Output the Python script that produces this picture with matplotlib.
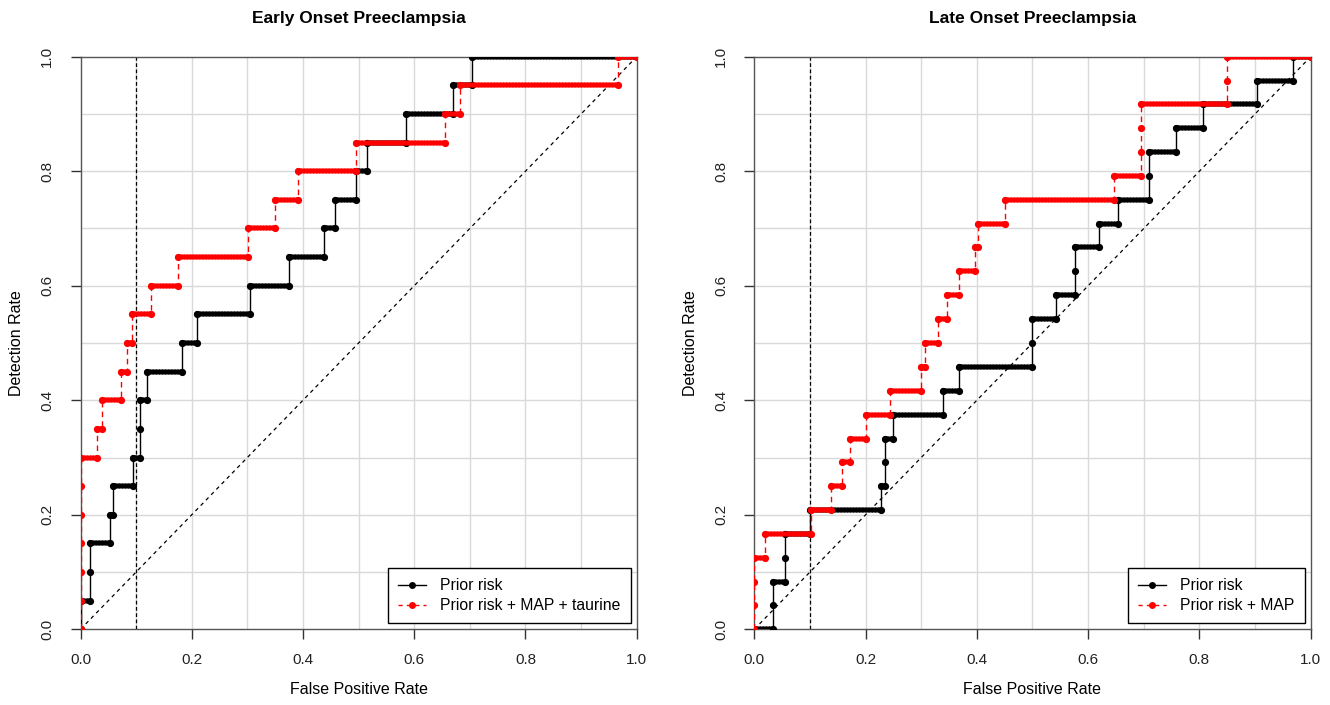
import matplotlib
matplotlib.use("Agg")
import matplotlib.pyplot as plt
from matplotlib.lines import Line2D

plt.rcParams['font.family'] = ['Liberation Sans', 'DejaVu Sans']

# ROC step vertices (false positive rate, detection rate)
eo_prior_fpr = [0, 0, 0.017, 0.017, 0.017, 0.053, 0.053, 0.058, 0.058, 0.095, 0.095, 0.107, 0.107, 0.107,
                0.12, 0.12, 0.183, 0.183, 0.21, 0.21, 0.305, 0.305, 0.375, 0.375, 0.438, 0.438, 0.458, 0.458,
                0.496, 0.496, 0.515, 0.515, 0.585, 0.585, 0.669, 0.669, 0.703, 0.703, 1.0]
eo_prior_tpr = [0, 0.05, 0.05, 0.10, 0.15, 0.15, 0.20, 0.20, 0.25, 0.25, 0.30, 0.30, 0.35, 0.40,
                0.40, 0.45, 0.45, 0.50, 0.50, 0.55, 0.55, 0.60, 0.60, 0.65, 0.65, 0.70, 0.70, 0.75,
                0.75, 0.80, 0.80, 0.85, 0.85, 0.90, 0.90, 0.95, 0.95, 1.0, 1.0]

eo_full_fpr = [0, 0, 0, 0, 0, 0, 0, 0.03, 0.03, 0.038, 0.038, 0.072, 0.072, 0.084, 0.084, 0.092, 0.092,
               0.127, 0.127, 0.175, 0.175, 0.301, 0.301, 0.349, 0.349, 0.391, 0.391, 0.495, 0.495,
               0.655, 0.655, 0.683, 0.683, 0.967, 0.967, 1.0]
eo_full_tpr = [0, 0.05, 0.10, 0.15, 0.20, 0.25, 0.30, 0.30, 0.35, 0.35, 0.40, 0.40, 0.45, 0.45, 0.50, 0.50, 0.55,
               0.55, 0.60, 0.60, 0.65, 0.65, 0.70, 0.70, 0.75, 0.75, 0.80, 0.80, 0.85,
               0.85, 0.90, 0.90, 0.95, 0.95, 1.0, 1.0]

lo_prior_fpr = [0, 0.034, 0.034, 0.034, 0.055, 0.055, 0.055, 0.1, 0.1, 0.228, 0.228, 0.235, 0.235, 0.235,
                0.249, 0.249, 0.34, 0.34, 0.368, 0.368, 0.499, 0.499, 0.499, 0.542, 0.542, 0.577, 0.577,
                0.577, 0.619, 0.619, 0.653, 0.653, 0.71, 0.71, 0.71, 0.758, 0.758, 0.807, 0.807, 0.903,
                0.903, 0.968, 0.968, 1.0]
lo_prior_tpr = [0, 0, 0.042, 0.083, 0.083, 0.125, 0.167, 0.167, 0.208, 0.208, 0.25, 0.25, 0.292, 0.333,
                0.333, 0.375, 0.375, 0.417, 0.417, 0.458, 0.458, 0.5, 0.542, 0.542, 0.583, 0.583, 0.625,
                0.667, 0.667, 0.708, 0.708, 0.75, 0.75, 0.792, 0.833, 0.833, 0.875, 0.875, 0.917, 0.917,
                0.958, 0.958, 1.0, 1.0]

lo_map_fpr = [0, 0, 0, 0, 0.019, 0.019, 0.102, 0.102, 0.138, 0.138, 0.158, 0.158, 0.172, 0.172, 0.201, 0.201,
              0.243, 0.243, 0.299, 0.299, 0.306, 0.306, 0.331, 0.331, 0.347, 0.347, 0.368, 0.368, 0.397,
              0.397, 0.402, 0.402, 0.451, 0.451, 0.647, 0.647, 0.695, 0.695, 0.695, 0.695, 0.849, 0.849,
              0.849, 1.0]
lo_map_tpr = [0, 0.042, 0.083, 0.125, 0.125, 0.167, 0.167, 0.208, 0.208, 0.25, 0.25, 0.292, 0.292, 0.333, 0.333, 0.375,
              0.375, 0.417, 0.417, 0.458, 0.458, 0.5, 0.5, 0.542, 0.542, 0.583, 0.583, 0.625, 0.625,
              0.667, 0.667, 0.708, 0.708, 0.75, 0.75, 0.792, 0.792, 0.833, 0.875, 0.917, 0.917, 0.958,
              1.0, 1.0]

panels = [
    ("Early Onset Preeclampsia", eo_prior_fpr, eo_prior_tpr, eo_full_fpr, eo_full_tpr,
     "Prior risk + MAP + taurine"),
    ("Late Onset Preeclampsia", lo_prior_fpr, lo_prior_tpr, lo_map_fpr, lo_map_tpr,
     "Prior risk + MAP"),
]

fig = plt.figure(figsize=(13.3, 7.05), dpi=100)
W, H = 1330, 705
boxes = [(80.5, 636.7), (754.3, 1310.7)]
top, bottom = 56.7, 629.3


def draw_curve(ax, fpr, tpr, color, ls):
    ax.plot(fpr, tpr, color=color, lw=1, linestyle=ls, zorder=3)
    # dense threshold dots along horizontal runs
    for i in range(len(fpr) - 1):
        if tpr[i] == tpr[i + 1] and fpr[i] != fpr[i + 1]:
            ax.plot([fpr[i], fpr[i + 1]], [tpr[i], tpr[i]], color=color, lw=4.0,
                    linestyle=(0, (0.01, 0.55)), dash_capstyle='round', zorder=4)
    ax.plot(fpr, tpr, linestyle='none', marker='o', ms=5.2, mew=0, color=color, zorder=4)


for (title, f1, t1, f2, t2, lab2), (x0, x1) in zip(panels, boxes):
    ax = fig.add_axes([x0 / W, (H - bottom) / H, (x1 - x0) / W, (bottom - top) / H])
    ax.set_xlim(0, 1)
    ax.set_ylim(0, 1)
    for v in [i / 10 for i in range(1, 10)]:
        ax.axvline(v, color='#d9d9d9', lw=1, zorder=1)
        ax.axhline(v, color='#d9d9d9', lw=1, zorder=1)
    ax.plot([0, 1], [0, 1], color='black', lw=0.9, linestyle=(0, (3, 3)), zorder=2)
    ax.axvline(0.1, color='black', lw=0.9, linestyle=(0, (3, 2)), zorder=2)

    draw_curve(ax, f1, t1, 'black', '-')
    draw_curve(ax, f2, t2, 'red', (0, (4, 3)))

    ticks = [0, 0.2, 0.4, 0.6, 0.8, 1.0]
    ax.set_xticks(ticks)
    ax.set_yticks(ticks)
    ax.set_xticklabels([f"{t:.1f}" for t in ticks])
    ax.set_yticklabels([f"{t:.1f}" for t in ticks], rotation=90, va='center')
    ax.tick_params(axis='both', direction='out', length=7, width=1, color='#333333',
                   labelsize=11, labelcolor='#222222')
    ax.tick_params(axis='x', pad=10)
    ax.tick_params(axis='y', pad=12)
    for s in ax.spines.values():
        s.set_color('#555555')
        s.set_linewidth(1)

    ax.set_xlabel("False Positive Rate", fontsize=11.5, va='center')
    ax.xaxis.set_label_coords(0.5, (bottom - 690) / (bottom - top))
    ax.set_ylabel("Detection Rate", fontsize=11.5, va='center')
    ax.yaxis.set_label_coords(-63.5 / (x1 - x0), 0.5)
    ax.text(0.5, (bottom - 18) / (bottom - top), title, transform=ax.transAxes,
            ha='center', va='center', fontsize=12.5, fontweight='bold')

    handles = [
        Line2D([], [], color='black', lw=1, marker='o', ms=5, mew=0),
        Line2D([], [], color='red', lw=1, linestyle=(0, (3, 3)), marker='o', ms=5, mew=0),
    ]
    leg = ax.legend(handles, ["Prior risk", lab2], loc='lower right', fontsize=11.3,
                    frameon=True, fancybox=False, edgecolor='black', framealpha=1,
                    borderaxespad=0.38, labelspacing=0.32, handlelength=1.8,
                    borderpad=0.65, handletextpad=0.9)
    leg.get_frame().set_linewidth(1)
    leg.set_zorder(6)

fig.savefig("out.png", dpi=100)
